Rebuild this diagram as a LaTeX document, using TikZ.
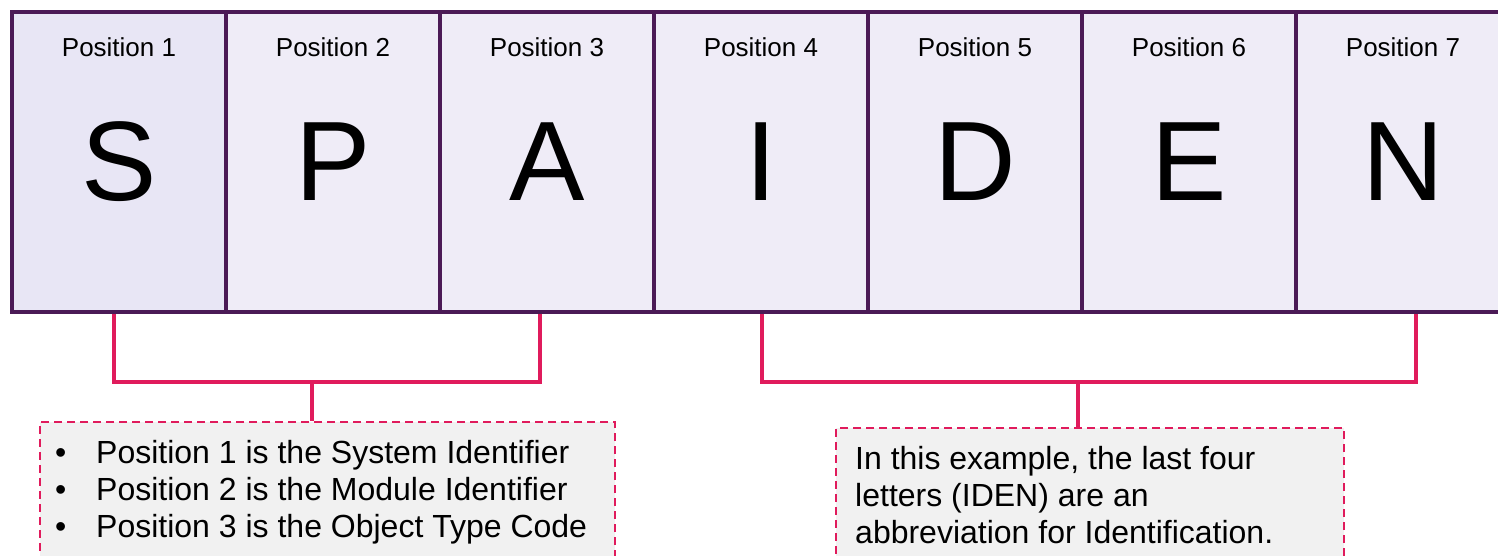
\documentclass[tikz,border=0pt]{standalone}
\usepackage{fontspec}
\setmainfont{Liberation Sans}
\definecolor{boxline}{HTML}{4B1A56}
\definecolor{boxfill}{HTML}{EFECF7}
\definecolor{firstfill}{HTML}{E8E6F5}
\definecolor{bracketred}{HTML}{E01B5C}
\definecolor{notefill}{HTML}{F1F1F1}
\tikzset{
    posbox/.style={draw=boxline,line width=4pt,fill=boxfill,rectangle,
        minimum width=214pt,minimum height=300pt,inner sep=0pt,
        font=\fontsize{113}{113}\selectfont},
    poslabel/.style={anchor=base,inner sep=0pt,font=\fontsize{26}{30}\selectfont},
    bracket/.style={draw=bracketred,line width=4.5pt},
    notebox/.style={draw=bracketred,line width=1.5pt,dash pattern=on 8pt off 5pt,
        fill=notefill,rectangle,inner sep=0pt},
    notetext/.style={anchor=base west,inner sep=0pt,font=\fontsize{32}{37}\selectfont},
}
\begin{document}
\begin{tikzpicture}[x=1pt,y=-1pt]
\path[use as bounding box] (0,0) rectangle (1498,556);
\clip (0,0) rectangle (1498,556);
% the seven positions
\node[posbox,fill=firstfill] (p1) at (119,162) {S};
\node[posbox] (p2) at (333,162) {P};
\node[posbox] (p3) at (547,162) {A};
\node[posbox] (p4) at (761,162) {I};
\node[posbox] (p5) at (975,162) {D};
\node[posbox] (p6) at (1189,162) {E};
\node[posbox] (p7) at (1403,162) {N};
\node[poslabel] (l1) at (119,57) {Position 1};
\node[poslabel] (l2) at (333,57) {Position 2};
\node[poslabel] (l3) at (547,57) {Position 3};
\node[poslabel] (l4) at (761,57) {Position 4};
\node[poslabel] (l5) at (975,57) {Position 5};
\node[poslabel] (l6) at (1189,57) {Position 6};
\node[poslabel] (l7) at (1403,57) {Position 7};
% notes
\node[notebox,minimum width=575pt,minimum height=198pt] (note1) at (327.5,521) {};
\node[notebox,minimum width=508pt,minimum height=192pt] (note2) at (1090,524) {};
\node[notetext] (t1) at (55,463) {\makebox[41pt][l]{\textbullet}Position 1 is the System Identifier};
\node[notetext] (t2) at (55,500) {\makebox[41pt][l]{\textbullet}Position 2 is the Module Identifier};
\node[notetext] (t3) at (55,537) {\makebox[41pt][l]{\textbullet}Position 3 is the Object Type Code};
\node[notetext] (t4) at (855,469) {In this example, the last four};
\node[notetext] (t5) at (855,506) {letters (IDEN) are an};
\node[notetext] (t6) at (855,543) {abbreviation for Identification.};
% brackets
\coordinate (ba) at (114,382);
\coordinate (bb) at (540,382);
\coordinate (bm) at (312,382);
\coordinate (bc) at (762,382);
\coordinate (bd) at (1416,382);
\coordinate (bn) at (1078,382);
\draw[bracket] (ba |- p1.south) -- (ba) -- (bb) -- (bb |- p3.south);
\draw[bracket] (bm) -- (bm |- note1.north);
\draw[bracket] (bc |- p4.south) -- (bc) -- (bd) -- (bd |- p7.south);
\draw[bracket] (bn) -- (bn |- note2.north);
\end{tikzpicture}
\end{document}
